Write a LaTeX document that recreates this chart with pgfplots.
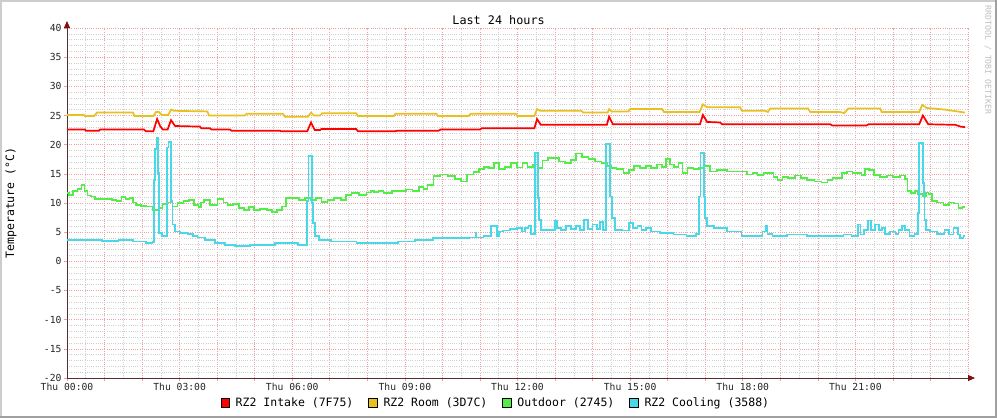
\documentclass[border=0pt]{standalone}
\usepackage{pgfplots}
\pgfplotsset{compat=1.18}
\usepackage{fontspec}
\setmainfont{DejaVu Sans Mono}
\usetikzlibrary{arrows.meta}
\definecolor{cIntake}{HTML}{FF0000}
\definecolor{cRoom}{HTML}{E8C020}
\definecolor{cOut}{HTML}{54EC48}
\definecolor{cCool}{HTML}{48D8E8}
\definecolor{mgrid}{HTML}{F0A0A0}
\definecolor{ngrid}{HTML}{D0D0D0}
\definecolor{axiscol}{HTML}{503030}
\definecolor{arrowcol}{HTML}{801010}
\begin{document}
\begin{tikzpicture}
\fill[white] (0,0) rectangle (997pt,418pt);
\draw[color={rgb,255:red,205;green,205;blue,205}, line width=2pt] (1pt,0pt) -- (1pt,417pt) -- (997pt,417pt);
\draw[color={rgb,255:red,160;green,160;blue,160}, line width=2pt] (0pt,1pt) -- (996pt,1pt) -- (996pt,418pt);
\node[rotate=-90, text=black!25, font=\fontsize{8.2}{9}\selectfont, anchor=center] at (988pt,358pt) {RRDTOOL / TOBI OETIKER};
\begin{axis}[
  at={(67pt,40pt)}, anchor=south west,
  width=901pt, height=350pt, scale only axis,
  xmin=0, xmax=24, ymin=-20, ymax=40,
  axis x line=bottom, axis y line=left,
  axis line style={draw=axiscol, line width=0.8pt, -{Triangle[length=7pt,width=6pt,color=arrowcol]}, shorten >=-7pt},
  xtick={0,1,...,24},
  xticklabels={Thu 00:00,,,Thu 03:00,,,Thu 06:00,,,Thu 09:00,,,Thu 12:00,,,Thu 15:00,,,Thu 18:00,,,Thu 21:00,,,},
  ytick={-20,-15,...,40},
  yticklabels={-20,-15,-10,-5,0,5,10,15,20,25,30,35,40},
  minor x tick num=1, minor y tick num=4,
  grid=both,
  major grid style={draw=mgrid, line width=0.6pt, dash pattern=on 1pt off 1.2pt},
  minor grid style={draw=ngrid, line width=0.6pt, dash pattern=on 1pt off 1.2pt},
  tick align=outside,
  major tick length=3pt, minor tick length=0pt,
  tick style={draw=mgrid, line width=0.6pt},
  ticklabel style={font=\fontsize{9.7}{10}\selectfont, text=black!85},
  xticklabel style={yshift=1pt},
  yticklabel style={xshift=1pt},
  title={Last 24 hours},
  every axis title shift=0pt,
  title style={at={(axis description cs:0.479,1.0229)}, anchor=center, yshift=0pt, font=\fontsize{11.8}{12}\selectfont},
  ylabel={Temperature (°C)},
  ylabel style={at={(axis description cs:-0.0622,0.5)}, anchor=center, font=\fontsize{11.5}{12}\selectfont},
  legend columns=4,
  legend style={at={(axis description cs:0.476,-0.0714)}, anchor=center, draw=none, fill=none,
    font=\fontsize{11.5}{12}\selectfont, inner sep=0pt,
    /tikz/every odd column/.style={column sep=4pt},
    /tikz/every even column/.style={column sep=13pt}},
  legend cell align=left,
]
\addplot[cOut, line width=1.7pt, const plot mark mid, forget plot] coordinates {
(0,11.7)(0.12,11.4)(0.21,12.0)(0.35,12.4)(0.42,13.1)(0.52,12.0)(0.57,11.3)(0.70,11.1)(0.79,10.7)(1.15,10.7)(1.23,10.5)(1.41,10.4)(1.50,11.0)(1.61,10.7)(1.72,10.9)(1.78,10.1)(1.90,9.7)(2.03,9.5)(2.21,9.4)(2.39,8.8)(2.48,9.1)(2.61,9.8)(2.74,10.1)(2.88,9.4)(3.01,10.0)(3.19,10.3)(3.32,10.5)(3.46,9.7)(3.54,9.3)(3.59,10.1)(3.72,10.5)(3.90,9.7)(4.12,10.7)(4.21,10.1)(4.34,9.7)(4.52,9.8)(4.65,9.1)(4.79,8.8)(4.92,9.3)(5.05,8.8)(5.23,9.0)(5.41,8.8)(5.50,8.5)(5.67,8.8)(5.78,9.4)(5.90,10.8)(6.12,10.8)(6.25,10.5)(6.43,10.8)(6.56,10.5)(6.69,10.8)(6.87,10.2)(7.01,10.5)(7.23,10.8)(7.36,10.5)(7.49,11.4)(7.67,11.7)(7.89,11.4)(8.07,11.8)(8.12,12.1)(8.25,11.9)(8.34,12.1)(8.52,11.7)(8.78,12.1)(8.96,12.0)(9.09,12.3)(9.32,12.1)(9.45,12.7)(9.54,12.4)(9.67,13.1)(9.85,14.6)(10.02,14.9)(10.25,14.6)(10.42,14.1)(10.56,13.7)(10.74,14.9)(10.91,15.3)(11.05,15.8)(11.18,16.2)(11.31,16.0)(11.45,16.8)(11.58,15.8)(11.76,16.2)(11.89,16.8)(12.07,16.1)(12.20,16.8)(12.33,16.2)(12.51,16.6)(12.60,16.0)(12.73,17.3)(12.91,17.7)(13.04,17.7)(13.18,17.1)(13.35,16.8)(13.49,17.4)(13.62,18.5)(13.80,17.9)(13.98,17.5)(14.15,17.1)(14.33,16.8)(14.42,16.3)(14.55,16.0)(14.73,15.8)(14.91,15.2)(15.04,15.7)(15.18,16.4)(15.35,16.0)(15.49,16.3)(15.62,16.0)(15.80,16.6)(15.89,16.2)(16.03,17.5)(16.11,16.6)(16.24,16.2)(16.33,16.8)(16.46,15.2)(16.60,16.0)(16.77,15.8)(16.91,16.0)(17.05,16.3)(17.22,15.4)(17.40,15.6)(17.75,15.4)(18.02,15.4)(18.19,14.9)(18.33,15.2)(18.46,14.8)(18.64,15.2)(18.77,15.1)(18.86,14.5)(18.99,14.0)(19.12,14.4)(19.30,14.3)(19.48,14.7)(19.61,14.3)(19.81,14.0)(20.01,13.7)(20.19,13.5)(20.32,14.0)(20.46,14.3)(20.59,14.3)(20.68,15.2)(20.86,15.4)(20.99,15.1)(21.12,15.2)(21.21,14.8)(21.30,15.8)(21.44,15.7)(21.57,14.8)(21.75,14.5)(21.92,14.7)(22.10,14.4)(22.28,14.7)(22.37,14.1)(22.41,12.0)(22.54,11.7)(22.63,12.0)(22.72,11.6)(22.86,11.1)(22.90,11.8)(22.99,11.6)(23.08,10.3)(23.26,10.1)(23.43,9.7)(23.57,10.1)(23.70,9.9)(23.79,9.1)(23.92,9.3)
};
\addplot[cCool, line width=1.7pt, const plot mark mid, forget plot] coordinates {
(0,3.7)(0.70,3.66)(1.15,3.5)(1.59,3.66)(1.94,3.4)(2.26,3.2)(2.30,3.3)(2.32,14.0)(2.37,19.2)(2.41,21.2)(2.43,15.2)(2.48,4.9)(2.57,4.4)(2.65,4.3)(2.67,19.5)(2.74,20.5)(2.79,10.3)(2.83,6.3)(2.92,5.1)(3.10,4.9)(3.32,4.7)(3.41,4.4)(3.54,4.1)(3.81,3.7)(4.08,3.1)(4.34,2.8)(4.61,2.6)(5.14,2.8)(5.94,3.1)(6.38,2.8)(6.40,10.3)(6.47,18.0)(6.53,18.0)(6.54,10.0)(6.58,6.6)(6.65,4.3)(6.78,3.7)(7.27,3.4)(8.16,3.2)(8.60,3.1)(9.05,3.4)(9.49,3.7)(10.02,4.0)(10.56,4.0)(10.87,4.1)(10.89,4.9)(10.92,4.1)(11.27,4.4)(11.31,6.1)(11.45,6.1)(11.47,4.4)(11.53,5.1)(11.71,5.3)(11.89,5.5)(12.07,5.7)(12.16,5.1)(12.25,5.7)(12.33,6.1)(12.40,4.7)(12.47,4.7)(12.48,18.6)(12.54,18.6)(12.55,10.8)(12.60,7.1)(12.65,5.4)(12.95,5.4)(13.03,7.0)(13.09,5.7)(13.22,5.4)(13.35,6.1)(13.49,5.5)(13.62,6.1)(13.71,5.4)(13.84,7.1)(13.93,5.5)(14.07,6.3)(14.15,5.5)(14.24,6.8)(14.33,5.4)(14.38,20.1)(14.46,20.1)(14.48,11.1)(14.54,7.4)(14.64,5.4)(14.91,5.3)(15.04,6.6)(15.13,5.7)(15.26,6.0)(15.35,5.4)(15.49,5.7)(15.62,5.1)(15.98,4.9)(16.33,4.6)(16.68,4.3)(16.82,4.7)(16.86,11.1)(16.89,18.6)(16.95,18.6)(16.97,11.1)(17.02,7.4)(17.08,6.0)(17.40,5.7)(17.75,5.1)(18.19,4.4)(18.46,4.4)(18.59,5.1)(18.64,6.0)(18.68,4.7)(18.90,4.4)(19.44,4.6)(19.97,4.4)(20.59,4.3)(20.77,4.6)(21.03,4.4)(21.10,6.3)(21.17,4.6)(21.30,5.4)(21.39,7.0)(21.46,5.4)(21.57,6.3)(21.68,5.4)(21.75,5.7)(21.84,4.7)(22.02,5.1)(22.11,4.7)(22.19,5.4)(22.28,6.0)(22.37,5.4)(22.51,4.4)(22.64,4.7)(22.68,8.3)(22.72,20.3)(22.79,20.3)(22.81,13.4)(22.83,11.1)(22.86,7.1)(22.90,5.4)(23.08,5.1)(23.26,4.7)(23.48,5.4)(23.52,4.6)(23.70,5.7)(23.75,4.6)(23.84,4.0)(23.92,4.3)
};
\addplot[cRoom, line width=1.7pt, forget plot] coordinates {
(0,25.1)(0.45,25.1)(0.48,24.9)(0.72,24.9)(0.80,25.5)(1.76,25.5)(1.80,24.9)(2.30,24.9)(2.37,25.6)(2.45,25.6)(2.52,25.1)(2.70,25.1)(2.77,26.0)(2.85,25.8)(3.74,25.7)(3.78,25.0)(4.74,25.0)(4.78,25.3)(5.75,25.3)(5.80,24.8)(6.42,24.8)(6.50,25.5)(6.58,25.0)(6.74,25.0)(6.80,25.4)(7.70,25.4)(7.75,24.9)(8.70,24.9)(8.75,25.3)(9.84,25.3)(9.88,24.9)(10.70,24.9)(10.75,25.3)(11.95,25.3)(12.0,24.9)(12.45,24.9)(12.52,26.1)(12.60,25.8)(13.70,25.8)(13.75,25.5)(14.40,25.5)(14.44,26.1)(14.50,25.7)(14.95,25.7)(15.0,26.1)(15.85,26.1)(15.90,25.6)(16.85,25.6)(16.94,26.9)(17.05,26.4)(17.93,26.4)(17.98,25.8)(18.60,25.8)(18.67,25.6)(18.73,26.2)(19.74,26.2)(19.80,25.6)(20.59,25.6)(20.70,25.4)(20.81,26.2)(21.66,26.2)(21.70,25.6)(22.70,25.6)(22.78,26.8)(22.90,26.3)(23.40,26.0)(23.92,25.5)
};
\addplot[cIntake, line width=1.7pt, forget plot] coordinates {
(0,22.6)(0.48,22.6)(0.50,22.4)(0.85,22.4)(0.88,22.6)(2.05,22.6)(2.10,22.3)(2.30,22.3)(2.40,24.4)(2.48,23.2)(2.55,22.6)(2.68,22.6)(2.77,24.2)(2.88,23.2)(3.54,23.1)(3.58,22.8)(3.81,22.8)(3.85,22.6)(4.34,22.6)(4.38,22.4)(5.67,22.4)(5.70,22.3)(6.40,22.3)(6.50,23.8)(6.60,22.5)(6.74,22.5)(6.78,22.7)(7.70,22.7)(7.75,22.3)(8.74,22.3)(8.80,22.4)(9.90,22.4)(9.95,22.6)(11.0,22.6)(11.05,22.8)(12.45,22.8)(12.52,24.4)(12.62,23.4)(14.38,23.4)(14.44,24.8)(14.54,23.5)(16.86,23.5)(16.94,25.1)(17.05,23.9)(17.40,23.8)(17.45,23.5)(20.33,23.5)(20.38,23.3)(21.30,23.3)(21.35,23.5)(22.70,23.5)(22.80,25.0)(22.94,23.5)(23.66,23.4)(23.80,23.1)(23.92,23.0)
};
\addlegendimage{legend image code/.code={\draw[draw=black, line width=0.7pt, fill=cIntake] (0pt,-4.2pt) rectangle (8.4pt,4.2pt);}}
\addlegendentry{RZ2 Intake (7F75)}
\addlegendimage{legend image code/.code={\draw[draw=black, line width=0.7pt, fill=cRoom] (0pt,-4.2pt) rectangle (8.4pt,4.2pt);}}
\addlegendentry{RZ2 Room (3D7C)}
\addlegendimage{legend image code/.code={\draw[draw=black, line width=0.7pt, fill=cOut] (0pt,-4.2pt) rectangle (8.4pt,4.2pt);}}
\addlegendentry{Outdoor (2745)}
\addlegendimage{legend image code/.code={\draw[draw=black, line width=0.7pt, fill=cCool] (0pt,-4.2pt) rectangle (8.4pt,4.2pt);}}
\addlegendentry{RZ2 Cooling (3588)}
\end{axis}
\pgfresetboundingbox
\path[use as bounding box] (0,0) rectangle (997pt,418pt);
\end{tikzpicture}
\end{document}
